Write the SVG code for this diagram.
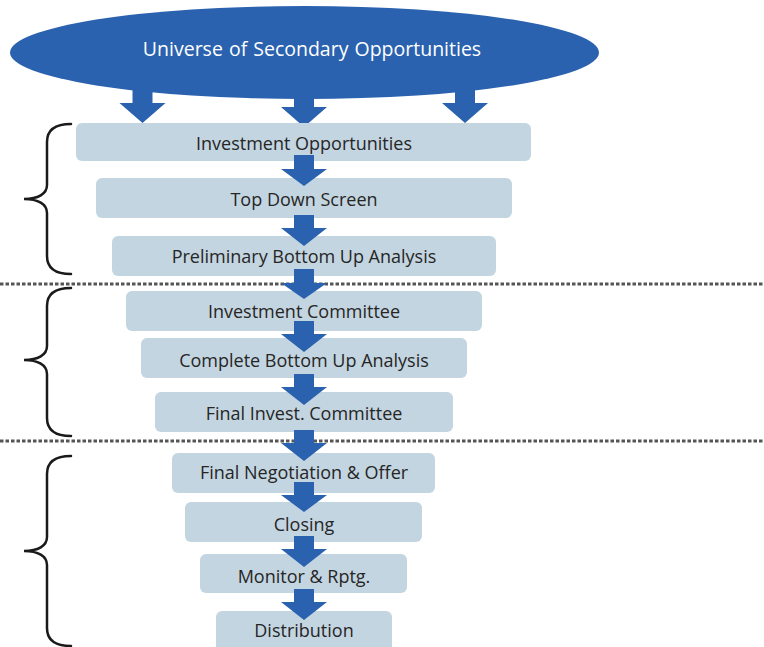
<svg xmlns="http://www.w3.org/2000/svg" width="764" height="647" viewBox="0 0 764 647">
<style>
.box{fill:#C3D5E0;}
.lbl{font-family:"Open Sans","Noto Sans",sans-serif;font-size:18px;fill:#262626;text-anchor:middle;}
.arr{fill:#2A62AF;}
.sep{stroke:#555;stroke-width:3;stroke-dasharray:3.5 2;fill:none;}
.brace{fill:none;stroke:#1a1a1a;stroke-width:2.5;stroke-linecap:round;}
</style>
<rect width="764" height="647" fill="#fff"/>
<g id="separators">
<line class="sep" x1="0" y1="284" x2="764" y2="284"/>
<line class="sep" x1="0" y1="441" x2="764" y2="441"/>
</g>
<g id="braces">
<path class="brace" d="M71,124 C55,124 47,130 47,142 L47,185 C47,194 38,199 24,199 C38,199 47,204 47,213 L47,256 C47,268 55,274 71,274"/>
<path class="brace" d="M71,288 C55,288 47,294 47,306 L47,346 C47,355 38,360 24,360 C38,360 47,365 47,374 L47,418 C47,430 55,436 71,436"/>
<path class="brace" d="M71,456 C55,456 47,462 47,474 L47,537 C47,546 38,551 24,551 C38,551 47,556 47,565 L47,628 C47,640 55,646 71,646"/>
</g>
<g id="connectors">
<polygon class="arr" points="132.5,80 152.5,80 152.5,103 165.5,103 142.5,123 119.5,103 132.5,103"/>
<polygon class="arr" points="294,90 314,90 314,107 327,107 304,127 281,107 294,107"/>
<polygon class="arr" points="455,80 475,80 475,103 488,103 465,123 442,103 455,103"/>
</g>
<g id="universe">
<ellipse cx="304.5" cy="52.5" rx="294.5" ry="46.5" fill="#2A62AF"/>
<text x="312" y="55.5" style="font-family:'Open Sans','Noto Sans',sans-serif;font-size:19.5px;fill:#fff;text-anchor:middle;word-spacing:1px">Universe of Secondary Opportunities</text>
</g>
<g id="investment-opportunities"><rect class="box" x="76" y="123" width="455" height="38" rx="6"/><text class="lbl" x="304" y="150">Investment Opportunities</text></g>
<g id="top-down-screen"><rect class="box" x="96" y="178" width="416" height="40" rx="6"/><text class="lbl" x="304" y="205.5">Top Down Screen</text></g>
<g id="preliminary-bottom-up"><rect class="box" x="112" y="236" width="384" height="40" rx="6"/><text class="lbl" x="304" y="263">Preliminary Bottom Up Analysis</text></g>
<g id="investment-committee"><rect class="box" x="126" y="291" width="356" height="40" rx="6"/><text class="lbl" x="304" y="317.5">Investment Committee</text></g>
<g id="complete-bottom-up"><rect class="box" x="141" y="338" width="326" height="40" rx="6"/><text class="lbl" x="304" y="367">Complete Bottom Up Analysis</text></g>
<g id="final-invest-committee"><rect class="box" x="155" y="392" width="298" height="40" rx="6"/><text class="lbl" x="304" y="420">Final Invest. Committee</text></g>
<g id="final-negotiation"><rect class="box" x="172" y="453" width="263" height="40" rx="6"/><text class="lbl" x="304" y="479">Final Negotiation &amp; Offer</text></g>
<g id="closing"><rect class="box" x="185" y="502" width="237" height="40" rx="6"/><text class="lbl" x="304" y="530.5">Closing</text></g>
<g id="monitor-rptg"><rect class="box" x="200" y="554" width="207" height="39" rx="6"/><text class="lbl" x="304" y="582.5">Monitor &amp; Rptg.</text></g>
<g id="distribution"><rect class="box" x="216" y="611" width="176" height="44" rx="6"/><text class="lbl" x="304" y="637">Distribution</text></g>
<g id="connectors-steps">
<polygon class="arr" points="294,155 314,155 314,169 327,169 304,186 281,169 294,169"/>
<polygon class="arr" points="294,215 314,215 314,228 327,228 304,246 281,228 294,228"/>
<polygon class="arr" points="294,269 314,269 314,283 327,283 304,299 281,283 294,283"/>
<polygon class="arr" points="294,321 314,321 314,334 327,334 304,352 281,334 294,334"/>
<polygon class="arr" points="294,374 314,374 314,387 327,387 304,405 281,387 294,387"/>
<polygon class="arr" points="294,430 314,430 314,443 327,443 304,461 281,443 294,443"/>
<polygon class="arr" points="294,482 314,482 314,495 327,495 304,512 281,495 294,495"/>
<polygon class="arr" points="294,536 314,536 314,549 327,549 304,567 281,549 294,549"/>
<polygon class="arr" points="294,589 314,589 314,602 327,602 304,620 281,602 294,602"/>
</g>
</svg>
